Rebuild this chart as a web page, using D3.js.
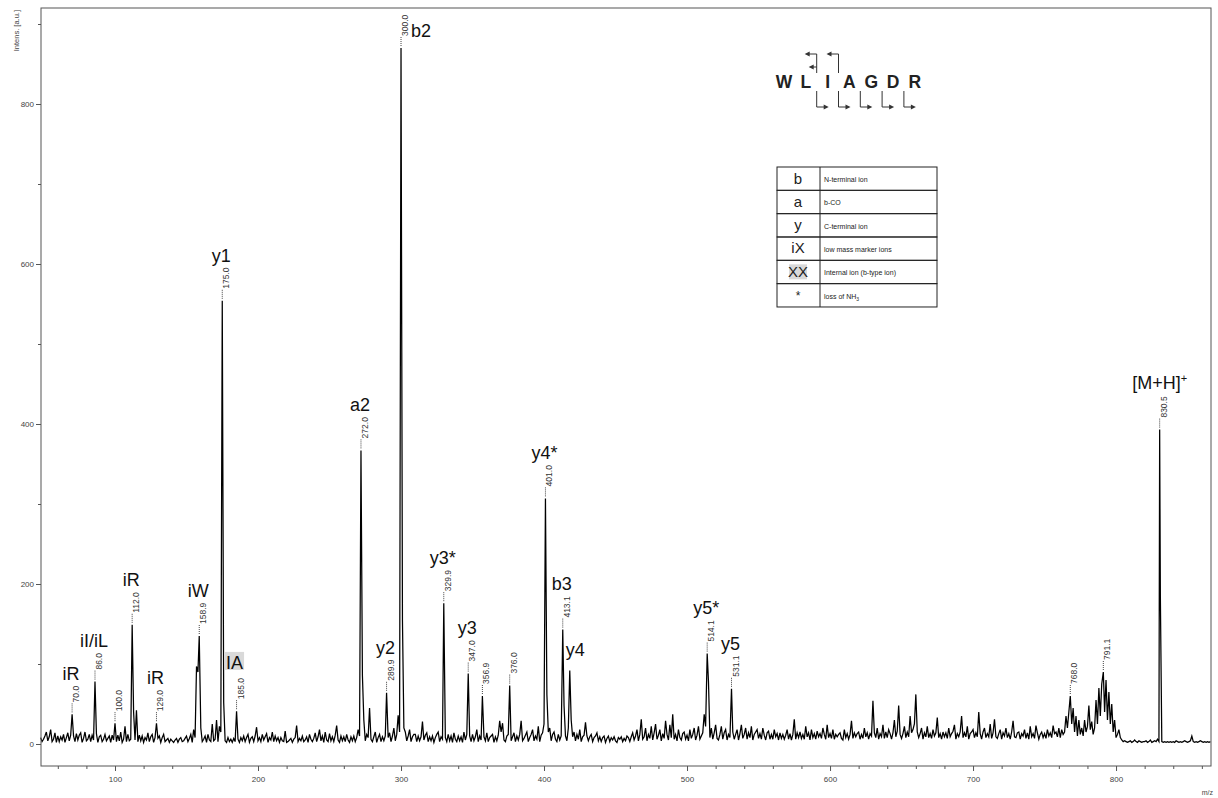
<!DOCTYPE html>
<html><head><meta charset="utf-8">
<script src="https://cdn.jsdelivr.net/npm/d3@7"></script>
<style>body{margin:0;background:#fff}svg{display:block;font-family:"Liberation Sans",Arial,sans-serif}</style>
</head><body><svg id="c" width="1218" height="798"></svg>
<script>
// ---------- DATA ----------
const noiseStartMz = 48;   // noise profile sampled every 1 m/z
const noise = [
  8, 3,                                   // 48-49
  6, 10, 15, 4, 9, 18, 3, 6, 14, 2,       // 50
  10, 3, 9, 5, 12, 2, 8, 14, 4, 11,       // 60
  5, 10, 3, 13, 5, 11, 14, 2, 7, 15,      // 70
  4, 6, 12, 3, 11, 5, 8, 13, 2, 9,        // 80
  11, 3, 6, 12, 4, 7, 10, 2, 11, 5,       // 90
  9, 3, 11, 4, 15, 2, 6, 22, 3, 12,       // 100
  4, 6, 10, 40, 5, 42, 3, 11, 4, 10,      // 110
  2, 8, 5, 14, 3, 9, 12, 2, 8, 4,         // 120
  7, 10, 2, 8, 12, 3, 5, 7, 2, 6,         // 130
  4, 2, 5, 7, 2, 6, 8, 3, 4, 7,           // 140
  10, 3, 7, 12, 2, 18, 8, 97, 90, 40,     // 150
  20, 3, 6, 10, 2, 12, 5, 3, 25, 4,       // 160
  6, 30, 3, 22, 15, 5, 52, 4, 2, 8,       // 170
  3, 6, 2, 7, 3, 5, 6, 2, 8, 4,           // 180
  10, 3, 8, 12, 2, 7, 9, 3, 10, 21,       // 190
  4, 8, 3, 12, 5, 9, 13, 2, 8, 5,         // 200
  15, 3, 10, 4, 8, 2, 8, 4, 3, 16,        // 210
  2, 3, 5, 7, 2, 6, 8, 23, 3, 7,          // 220
  4, 10, 3, 5, 9, 2, 12, 6, 3, 7,         // 230
  14, 3, 9, 18, 4, 10, 2, 15, 5, 3,       // 240
  13, 4, 9, 3, 11, 23, 5, 2, 10, 4,       // 250
  9, 3, 12, 5, 2, 9, 4, 10, 3, 8,         // 260
  18, 10, 5, 86, 30, 4, 12, 8, 45, 6,     // 270
  3, 9, 15, 2, 8, 12, 3, 9, 4, 10,        // 280
  5, 8, 14, 3, 10, 20, 4, 12, 36, 15,     // 290
  5, 155, 20, 15, 4, 10, 18, 3, 9, 12,    // 300
  12, 3, 10, 4, 9, 28, 5, 11, 14, 3,      // 310
  9, 4, 10, 2, 8, 12, 15, 3, 9, 6,        // 320
  5, 8, 3, 12, 4, 10, 2, 14, 6, 3,        // 330
  10, 4, 9, 2, 15, 5, 12, 5, 10, 3,       // 340
  12, 4, 9, 18, 3, 10, 5, 5, 9, 4,        // 350
  14, 3, 8, 10, 12, 2, 9, 4, 11, 29,      // 360
  15, 26, 5, 3, 10, 12, 5, 4, 9, 14,      // 370
  3, 10, 5, 12, 29, 4, 7, 11, 15, 3,      // 380
  8, 12, 18, 4, 10, 6, 22, 3, 11, 14,     // 390
  25, 5, 62, 15, 20, 4, 12, 15, 6, 3,     // 400
  12, 5, 10, 5, 48, 10, 4, 20, 5, 30,     // 410
  9, 15, 4, 12, 6, 18, 3, 9, 11, 27,      // 420
  10, 4, 9, 12, 3, 8, 10, 14, 4, 9,       // 430
  3, 8, 10, 2, 7, 10, 3, 8, 5, 9,         // 440
  4, 2, 8, 6, 9, 3, 7, 4, 10, 8,          // 450
  3, 9, 14, 5, 10, 18, 4, 12, 31, 6,      // 460
  9, 20, 4, 12, 7, 22, 5, 14, 25, 6,      // 470
  11, 18, 4, 13, 7, 29, 12, 5, 24, 8,     // 480
  37, 6, 12, 4, 18, 8, 5, 13, 15, 6,      // 490
  11, 4, 18, 7, 12, 20, 5, 11, 22, 6,     // 500
  10, 14, 37, 22, 5, 78, 8, 20, 6, 14,    // 510
  24, 7, 5, 12, 22, 6, 14, 18, 5, 12,     // 520
  8, 5, 15, 6, 12, 18, 5, 13, 24, 7,      // 530
  12, 20, 6, 14, 8, 22, 5, 12, 15, 18,    // 540
  7, 13, 6, 20, 11, 5, 14, 16, 6, 12,     // 550
  6, 18, 9, 13, 5, 14, 7, 12, 6, 11,      // 560
  18, 6, 13, 5, 12, 31, 6, 14, 8, 15,     // 570
  7, 12, 6, 22, 9, 14, 5, 18, 8, 13,      // 580
  6, 16, 9, 13, 7, 20, 12, 6, 24, 8,      // 590
  13, 7, 18, 6, 12, 9, 12, 14, 7, 5,      // 600
  18, 8, 13, 6, 12, 29, 7, 14, 9, 13,     // 610
  15, 6, 12, 7, 20, 9, 14, 6, 13, 10,     // 620
  54, 14, 8, 20, 6, 13, 9, 24, 7, 15,     // 630
  8, 18, 13, 6, 14, 30, 9, 16, 48, 12,    // 640
  7, 13, 22, 8, 15, 9, 35, 14, 18, 25,    // 650
  62, 15, 8, 13, 20, 6, 14, 9, 22, 8,     // 660
  13, 7, 18, 10, 14, 33, 8, 13, 6, 15,    // 670
  9, 14, 7, 20, 9, 13, 16, 24, 6, 13,     // 680
  9, 15, 35, 8, 14, 9, 22, 6, 13, 15,     // 690
  18, 8, 14, 9, 40, 13, 6, 15, 20, 8,     // 700
  13, 9, 25, 7, 14, 31, 9, 7, 13, 18,     // 710
  6, 14, 10, 20, 8, 13, 6, 15, 29, 9,     // 720
  8, 14, 15, 6, 13, 10, 18, 7, 14, 6,     // 730
  22, 9, 13, 7, 23, 14, 6, 12, 15, 8,     // 740
  13, 7, 18, 10, 14, 8, 23, 13, 15, 9,    // 750
  20, 8, 18, 12, 15, 35, 20, 40, 5, 25,   // 760
  45, 15, 35, 10, 30, 12, 20, 10, 30, 15, // 770
  22, 48, 18, 28, 12, 20, 55, 25, 70, 35, // 780
  75, 5, 40, 80, 30, 65, 25, 50, 15, 30,  // 790
  8, 12, 18, 8, 5, 3, 4, 3, 2, 3,         // 800
  4, 2, 3, 5, 3, 2, 4, 3, 2, 3,           // 810
  3, 4, 2, 3, 5, 2, 3, 4, 3, 6,           // 820
  3, 183, 3, 2, 3, 2, 3, 2, 3, 2,         // 830
  3, 2, 4, 3, 2, 3, 2, 3, 4, 3,           // 840
  2, 3, 4, 10, 3, 2, 3, 2, 3, 4,          // 850
  3, 2, 3, 2, 3, 2, 3                     // 860-866
];

const peakMz  = [70.0, 86.0, 100.0, 112.0, 129.0, 158.9, 175.0, 185.0, 272.0, 289.9, 300.0, 329.9, 347.0, 356.9, 376.0, 401.0, 413.1, 418.0, 514.1, 531.1, 768.0, 791.1, 830.5];
const peakInt = [37,   78,   26,    149,   26,    135,   554,   41,    367,   64,    870,   176,   88,    60,    73,    307,   143,   92,    113,   69,    60,    90,    393];
const massLabels = ["70.0","86.0","100.0","112.0","129.0","158.9","175.0","185.0","272.0","289.9","300.0","329.9","347.0","356.9","376.0","401.0","413.1","","514.1","531.1","768.0","791.1","830.5"];
const ionLabels  = ["iR","iI/iL","","iR","iR","iW","y1","IA","a2","y2","b2","y3*","y3","","","y4*","b3","y4","y5*","y5","","","[M+H]+"];

const yMajor = [0, 200, 400, 600, 800];
const yMinor = [100, 300, 500, 700, 900];
const xMajor = [100, 200, 300, 400, 500, 600, 700, 800];
const xMinor = d3.range(60, 861, 20).filter(v => v % 100 !== 0);

const residues = ["W","L","I","A","G","D","R"];
const bCuts = [1, 2, 3, 4, 5];     // cleavage after residue index (N-terminal arrows)
const yCuts = [1, 2];              // C-terminal arrows

const legendSymbols = ["b","a","y","iX","XX","*"];
const legendTexts = ["N-terminal ion","b-CO","C-terminal ion","low mass marker ions","Internal ion (b-type ion)","loss of NH"];

// ---------- SCALES ----------
const svg = d3.select("#c");
const x = d3.scaleLinear().domain([48.25, 866.4]).range([41, 1211]);
const y = d3.scaleLinear().domain([-27.5, 920]).range([766, 8]);

// ---------- SPECTRUM ----------
let pts = noise.map((v, i) => [noiseStartMz + i, v])
  .filter(p => !peakMz.some(m => Math.abs(m - p[0]) < 0.5));
peakMz.forEach((m, i) => pts.push([m, peakInt[i]]));
pts.sort((a, b) => a[0] - b[0]);

svg.append("path")
  .datum(pts)
  .attr("fill", "none")
  .attr("stroke", "#000")
  .attr("stroke-width", 1.25)
  .attr("stroke-linejoin", "miter")
  .attr("d", d3.line().x(d => x(d[0])).y(d => y(d[1])));

// ---------- FRAME & AXES ----------
const axisColor = "#555";
svg.append("rect").attr("x", 41).attr("y", 8).attr("width", 1170).attr("height", 758)
  .attr("fill", "none").attr("stroke", axisColor).attr("stroke-width", 1);

function styleAxis(g) {
  g.select(".domain").remove();
  g.selectAll("line").attr("stroke", axisColor);
  g.selectAll("text").attr("fill", "#444").style("font-size", "8px")
    .style("font-family", '"Liberation Sans",Arial,sans-serif');
}
svg.append("g").attr("transform", "translate(41,0)")
  .call(d3.axisLeft(y).tickValues(yMajor).tickSize(5).tickPadding(2).tickFormat(d3.format("d"))).call(styleAxis);
svg.append("g").attr("transform", "translate(41,0)")
  .call(d3.axisLeft(y).tickValues(yMinor).tickSize(3).tickFormat("")).call(styleAxis);
svg.append("g").attr("transform", "translate(0,766)")
  .call(d3.axisBottom(x).tickValues(xMajor).tickSize(5).tickPadding(5).tickFormat(d3.format("d"))).call(styleAxis);
svg.append("g").attr("transform", "translate(0,766)")
  .call(d3.axisBottom(x).tickValues(xMinor).tickSize(3).tickFormat("")).call(styleAxis);

svg.append("text").attr("transform", "translate(19,10) rotate(-90)")
  .attr("text-anchor", "end").attr("fill", "#444").style("font-size", "7.5px").text("Intens. [a.u.]");
svg.append("text").attr("x", 1213).attr("y", 795)
  .attr("text-anchor", "end").attr("fill", "#444").style("font-size", "7px").text("m/z");

// ---------- PEAK LABELS ----------
const lab = svg.append("g");
peakMz.forEach((m, i) => {
  const px = x(m), py = y(peakInt[i]);
  let top = py;
  if (massLabels[i]) {
    lab.append("line").attr("x1", px).attr("x2", px).attr("y1", py - 2).attr("y2", py - 11)
      .attr("stroke", "#444").attr("stroke-width", 1).attr("stroke-dasharray", "1,1");
    const t = lab.append("text")
      .attr("transform", `translate(${px + 7},${py - 12}) rotate(-90)`)
      .attr("fill", "#333").style("font-size", "8.5px").text(massLabels[i]);
    top = py - 12 - t.node().getComputedTextLength();
  }
  const ion = ionLabels[i];
  if (!ion) return;
  const t = lab.append("text").attr("fill", "#111").style("font-size", "18px");
  if (ion === "b2") {
    t.attr("x", px + 10).attr("y", py - 11).attr("text-anchor", "start").text(ion);
  } else if (ion === "y4") {
    t.attr("x", px - 4).attr("y", py - 14).attr("text-anchor", "start").text(ion);
  } else if (ion === "[M+H]+") {
    t.attr("x", px).attr("y", top - 7).attr("text-anchor", "middle");
    t.append("tspan").text("[M+H]");
    t.append("tspan").attr("dy", -7).style("font-size", "11px").text("+");
  } else if (ion === "IA") {
    t.attr("x", px - 2).attr("y", top - 9).attr("text-anchor", "middle").text(ion);
    const bb = t.node().getBBox();
    lab.insert("rect", () => t.node())
      .attr("x", bb.x - 1).attr("y", top - 9 - 17).attr("width", bb.width + 2).attr("height", 18)
      .attr("fill", "#d9d9d9");
  } else {
    t.attr("x", px - 1).attr("y", top - 6).attr("text-anchor", "middle").text(ion);
  }
});

// ---------- PEPTIDE SEQUENCE ----------
const seq = svg.append("g");
const rx = i => 784 + i * 21.8;
const seqBase = 88;
residues.forEach((r, i) => {
  seq.append("text").attr("x", rx(i)).attr("y", seqBase).attr("text-anchor", "middle")
    .attr("fill", "#222").style("font-size", "17.5px").style("font-weight", "bold").text(r);
});
const sc = "#333";
function arrowHead(g, ax, ay, dir) {
  g.append("path").attr("d", `M${ax},${ay} L${ax - dir * 5},${ay - 2.5} L${ax - dir * 5},${ay + 2.5} Z`).attr("fill", sc);
}
bCuts.forEach(c => {
  const cx = (rx(c) + rx(c + 1)) / 2;
  seq.append("path").attr("d", `M${cx},${seqBase + 3} V107 H${cx + 10}`)
    .attr("fill", "none").attr("stroke", sc).attr("stroke-width", 1);
  arrowHead(seq, cx + 12, 107, 1);
});
yCuts.forEach((c, k) => {
  const cx = (rx(c) + rx(c + 1)) / 2;
  seq.append("path").attr("d", `M${cx},73 V54 H${cx - 10}`)
    .attr("fill", "none").attr("stroke", sc).attr("stroke-width", 1);
  arrowHead(seq, cx - 12, 54, -1);
  if (k === 0) {
    seq.append("path").attr("d", `M${cx},67 H${cx - 6}`).attr("fill", "none").attr("stroke", sc);
    arrowHead(seq, cx - 8, 67, -1);
  }
});

// ---------- LEGEND TABLE ----------
const lg = svg.append("g");
const lx0 = 777, lx1 = 820, lx2 = 937, ly0 = 167, rowH = 23.33;
legendSymbols.forEach((s, i) => {
  const ry = ly0 + i * rowH;
  lg.append("rect").attr("x", lx0).attr("y", ry).attr("width", lx2 - lx0).attr("height", rowH)
    .attr("fill", "none").attr("stroke", "#222").attr("stroke-width", 1);
  if (s === "XX") {
    lg.append("rect").attr("x", 789).attr("y", ry + 4).attr("width", 18).attr("height", 15).attr("fill", "#d9d9d9");
  }
  lg.append("text").attr("x", 798).attr("y", ry + 16.5).attr("text-anchor", "middle")
    .attr("fill", "#222").style("font-size", s === "*" ? "12px" : "15px").text(s);
  const t = lg.append("text").attr("x", 824).attr("y", ry + 15).attr("fill", "#222").style("font-size", "7px")
    .text(legendTexts[i]);
  if (i === 5) t.append("tspan").attr("dy", 2).style("font-size", "5px").text("3");
});
lg.append("line").attr("x1", lx1).attr("x2", lx1).attr("y1", ly0).attr("y2", ly0 + 6 * rowH)
  .attr("stroke", "#222").attr("stroke-width", 1);
</script></body></html>
